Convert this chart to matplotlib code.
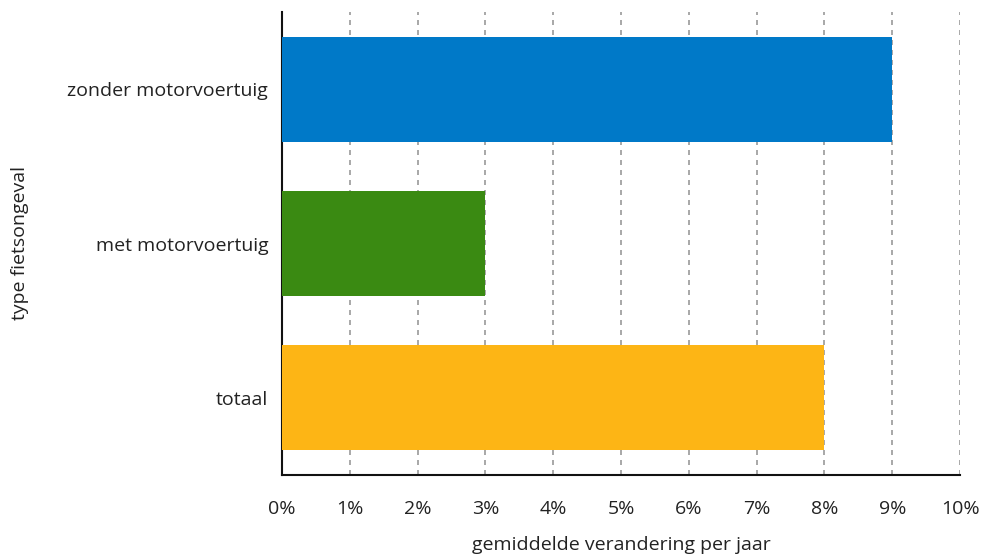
import matplotlib
matplotlib.use("Agg")
import matplotlib.pyplot as plt
from matplotlib.ticker import FuncFormatter

categories = ["totaal", "met motorvoertuig", "zonder motorvoertuig"]
values = [8, 3, 9]
colors = ["#FDB515", "#3A8A12", "#0079C8"]
xticks = list(range(0, 11))

plt.rcParams['font.family'] = ['Open Sans', 'DejaVu Sans']

fig = plt.figure(figsize=(9.82, 5.59), dpi=100)
ax = fig.add_axes([0.2872, 0.1503, 0.6904, 0.8282])
ax.barh(range(len(categories)), values, height=0.68, color=colors, zorder=3)
ax.set_ylim(-0.5, 2.5)
ax.set_xlim(0, 10)
ax.set_xticks(xticks)
ax.xaxis.set_major_formatter(FuncFormatter(lambda v, p: f"{int(v)}%"))
ax.set_yticks(range(len(categories)))
ax.set_yticklabels(categories)
ax.tick_params(axis='both', length=0, labelsize=14, colors='#222222')
ax.tick_params(axis='x', pad=18)
ax.tick_params(axis='y', pad=10)
ax.grid(axis='x', color='#999999', linestyle=(0, (3, 3)), linewidth=1.2, zorder=0)
for s in ['top', 'right']:
    ax.spines[s].set_visible(False)
for s in ['left', 'bottom']:
    ax.spines[s].set_color('#111111')
    ax.spines[s].set_linewidth(1.5)
ax.set_xlabel("gemiddelde verandering per jaar", fontsize=14, color='#222222', labelpad=13)
fig.text(20 / 982, 1 - 243 / 559, "type fietsongeval", fontsize=14, color='#222222',
         rotation=90, ha='center', va='center')
fig.savefig("out.png", dpi=100)
